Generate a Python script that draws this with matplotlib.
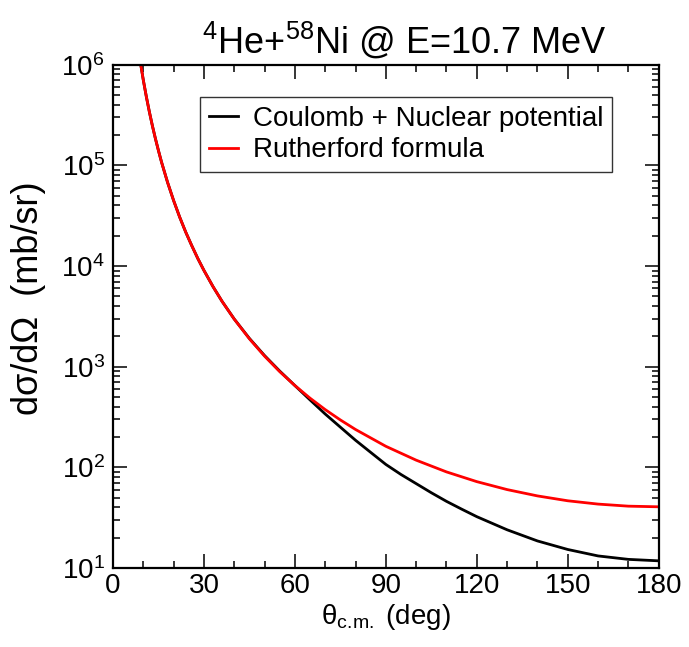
import numpy as np
import matplotlib
matplotlib.use('Agg')
import matplotlib.pyplot as plt
from matplotlib.ticker import LogLocator, MultipleLocator, NullFormatter

plt.rcParams['font.family'] = ['Liberation Sans', 'DejaVu Sans']
plt.rcParams['mathtext.fontset'] = 'custom'
plt.rcParams['mathtext.rm'] = 'Liberation Sans'
plt.rcParams['mathtext.it'] = 'Liberation Sans:italic'

# Rutherford formula curve (deg, mb/sr)
theta_ruth = [9, 10, 11, 12, 13, 14, 15, 16, 18, 20, 22, 24, 26, 28, 30, 33, 36,
              40, 45, 50, 55, 60, 65, 70, 75, 80, 90, 100, 110, 120, 130, 140,
              150, 160, 170, 180]
sigma_ruth = [1.07e6, 7.03e5, 4.81e5, 3.40e5, 2.47e5, 1.84e5, 1.40e5, 1.08e5,
              6.78e4, 4.47e4, 3.06e4, 2.17e4, 1.59e4, 1.185e4, 9050, 6240, 4450,
              2967, 1893, 1273, 893, 650, 487, 375, 296, 238, 162, 118, 90.2,
              72.2, 60.2, 52.1, 46.6, 43.2, 41.2, 40.6]

# Coulomb + nuclear potential curve (deg, mb/sr)
theta_cn = [9, 10, 11, 12, 13, 14, 15, 16, 18, 20, 22, 24, 26, 28, 30, 33, 36,
            40, 45, 50, 55, 60, 65, 70, 75, 80, 85, 90, 95, 100, 105, 110, 115,
            120, 130, 140, 150, 160, 170, 180]
sigma_cn = [1.07e6, 7.03e5, 4.81e5, 3.40e5, 2.47e5, 1.84e5, 1.40e5, 1.08e5,
            6.78e4, 4.47e4, 3.06e4, 2.17e4, 1.59e4, 1.185e4, 9050, 6240, 4450,
            2975, 1910, 1290, 905, 650, 468, 339, 251, 186, 141, 107, 85, 69,
            56, 46, 38.5, 32.4, 24.0, 18.6, 15.3, 13.2, 12.2, 11.8]

fig = plt.figure(figsize=(6.89, 6.47), dpi=100)
ax = fig.add_axes([0.164, 0.122, 0.792, 0.778])

ax.plot(theta_cn, sigma_cn, color='black', lw=2, label='Coulomb + Nuclear potential')
ax.plot(theta_ruth, sigma_ruth, color='red', lw=2, label='Rutherford formula')

ax.set_yscale('log')
ax.set_xlim(0, 180)
ax.set_ylim(10, 1e6)
ax.xaxis.set_major_locator(MultipleLocator(30))
ax.xaxis.set_minor_locator(MultipleLocator(10))
ax.yaxis.set_major_locator(LogLocator(base=10, numticks=10))
ax.yaxis.set_minor_locator(LogLocator(base=10, subs=np.arange(2, 10), numticks=20))
ax.yaxis.set_minor_formatter(NullFormatter())

ax.tick_params(which='both', direction='in', top=True, right=True, width=1.1,
               labelsize=20)
ax.tick_params(which='major', length=10)
ax.tick_params(which='minor', length=5)
ax.tick_params(axis='y', pad=6)
for s in ax.spines.values():
    s.set_linewidth(1.6)

ax.set_title(r'$^{4}$He+$^{58}$Ni @ E=10.7 MeV', fontsize=26, pad=8, x=0.534)
ax.set_xlabel(r'$\mathrm{θ_{c.\!m.}}$ (deg)', fontsize=20, labelpad=2)
ax.set_ylabel('dσ/dΩ  (mb/sr)', fontsize=26)
ax.yaxis.set_label_coords(-0.122, 0.537)

leg = ax.legend(loc='upper left', bbox_to_anchor=(0.16, 0.935), fontsize=20,
                frameon=True, fancybox=False, handlelength=1.05, handletextpad=0.55,
                borderpad=0.3, labelspacing=0.2, borderaxespad=0)
leg.get_frame().set_edgecolor('black')
leg.get_frame().set_linewidth(1.0)

fig.savefig('out.png', dpi=100)
